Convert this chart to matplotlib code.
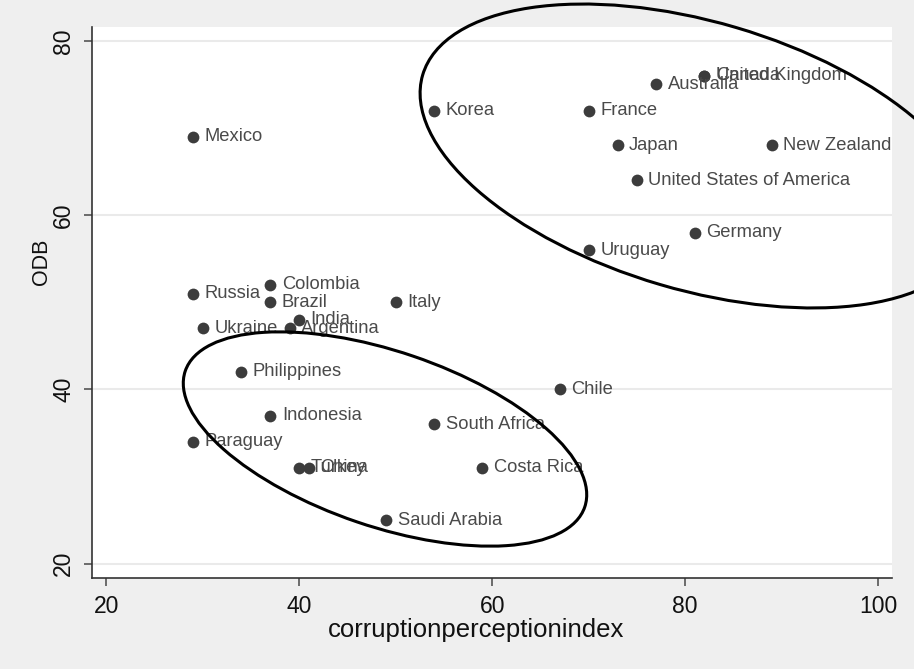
import matplotlib
matplotlib.use("Agg")
import matplotlib.pyplot as plt
from matplotlib.patches import Ellipse
from matplotlib.transforms import Affine2D

plt.rcParams['font.family'] = ['Liberation Sans', 'DejaVu Sans']

countries = ["Mexico", "Korea", "France", "Australia", "Canada", "United Kingdom",
             "Japan", "New Zealand", "United States of America", "Germany", "Uruguay",
             "Russia", "Colombia", "Brazil", "Italy", "India", "Ukraine", "Argentina",
             "Philippines", "Chile", "Indonesia", "South Africa", "Paraguay",
             "Turkey", "China", "Costa Rica", "Saudi Arabia"]
cpi = [29, 54, 70, 77, 82, 82, 73, 89, 75, 81, 70,
       29, 37, 37, 50, 40, 30, 39,
       34, 67, 37, 54, 29,
       40, 41, 59, 49]
odb = [69, 72, 72, 75, 76, 76, 68, 68, 64, 58, 56,
       51, 52, 50, 50, 48, 47, 47,
       42, 40, 37, 36, 34,
       31, 31, 31, 25]
xticks = [20, 40, 60, 80, 100]
yticks = [20, 40, 60, 80]

W, H = 914, 669
fig = plt.figure(figsize=(W / 100, H / 100), dpi=100, facecolor='#efefef')
ax = fig.add_axes([92 / W, 1 - 578 / H, (892 - 92) / W, (578 - 27) / H])
ax.set_facecolor('white')
ax.set_xlim(18.52, 101.45)
ax.set_ylim(18.35, 81.6)

ax.set_xticks(xticks)
ax.set_yticks(yticks)
ax.yaxis.grid(True, color='#eaeaea', linewidth=1.5)
ax.xaxis.grid(False)
ax.set_axisbelow(True)
for s in ['top', 'right']:
    ax.spines[s].set_visible(False)
for s in ['left', 'bottom']:
    ax.spines[s].set_color('#333333')
    ax.spines[s].set_linewidth(1.2)
ax.tick_params(axis='both', length=6, width=1.2, color='#555555',
               labelsize=16.5, labelcolor='#111111', pad=6)
for lbl in ax.get_yticklabels():
    lbl.set_rotation(90)
    lbl.set_va('center')

ax.set_xlabel('corruptionperceptionindex', fontsize=18.5, color='#111111')
ax.xaxis.set_label_coords((476 - 92) / 800, -(630 - 578) / 551)
ax.xaxis.label.set_va('center')
ax.set_ylabel('ODB', fontsize=15.5, color='#111111')
ax.yaxis.set_label_coords(-(92 - 42) / 800, (578 - 262) / 551)
ax.yaxis.label.set_va('center')

ax.scatter(cpi, odb, s=72, color='#3c3c3c', zorder=3, linewidths=0)
for name, x, y in zip(countries, cpi, odb):
    ax.annotate(name, (x, y), xytext=(8.3, 0), textcoords='offset points',
                va='center', ha='left', fontsize=13.2, color='#4a4a4a', zorder=4)

# ellipses in pixel space (image coordinates, y down)
def add_ellipse(cx, cy, a, b, theta):
    tr = Affine2D().scale(1, 1)
    e = Ellipse((cx, H - cy), 2 * a, 2 * b, angle=-theta, fill=False,
                edgecolor='black', linewidth=2.2, transform=tr, clip_on=False, zorder=5)
    fig.add_artist(e)

add_ellipse(698, 156, 287, 134, 16.4)
add_ellipse(385, 439, 211, 87.5, 18.8)

fig.savefig('out.png', dpi=100, facecolor=fig.get_facecolor())
